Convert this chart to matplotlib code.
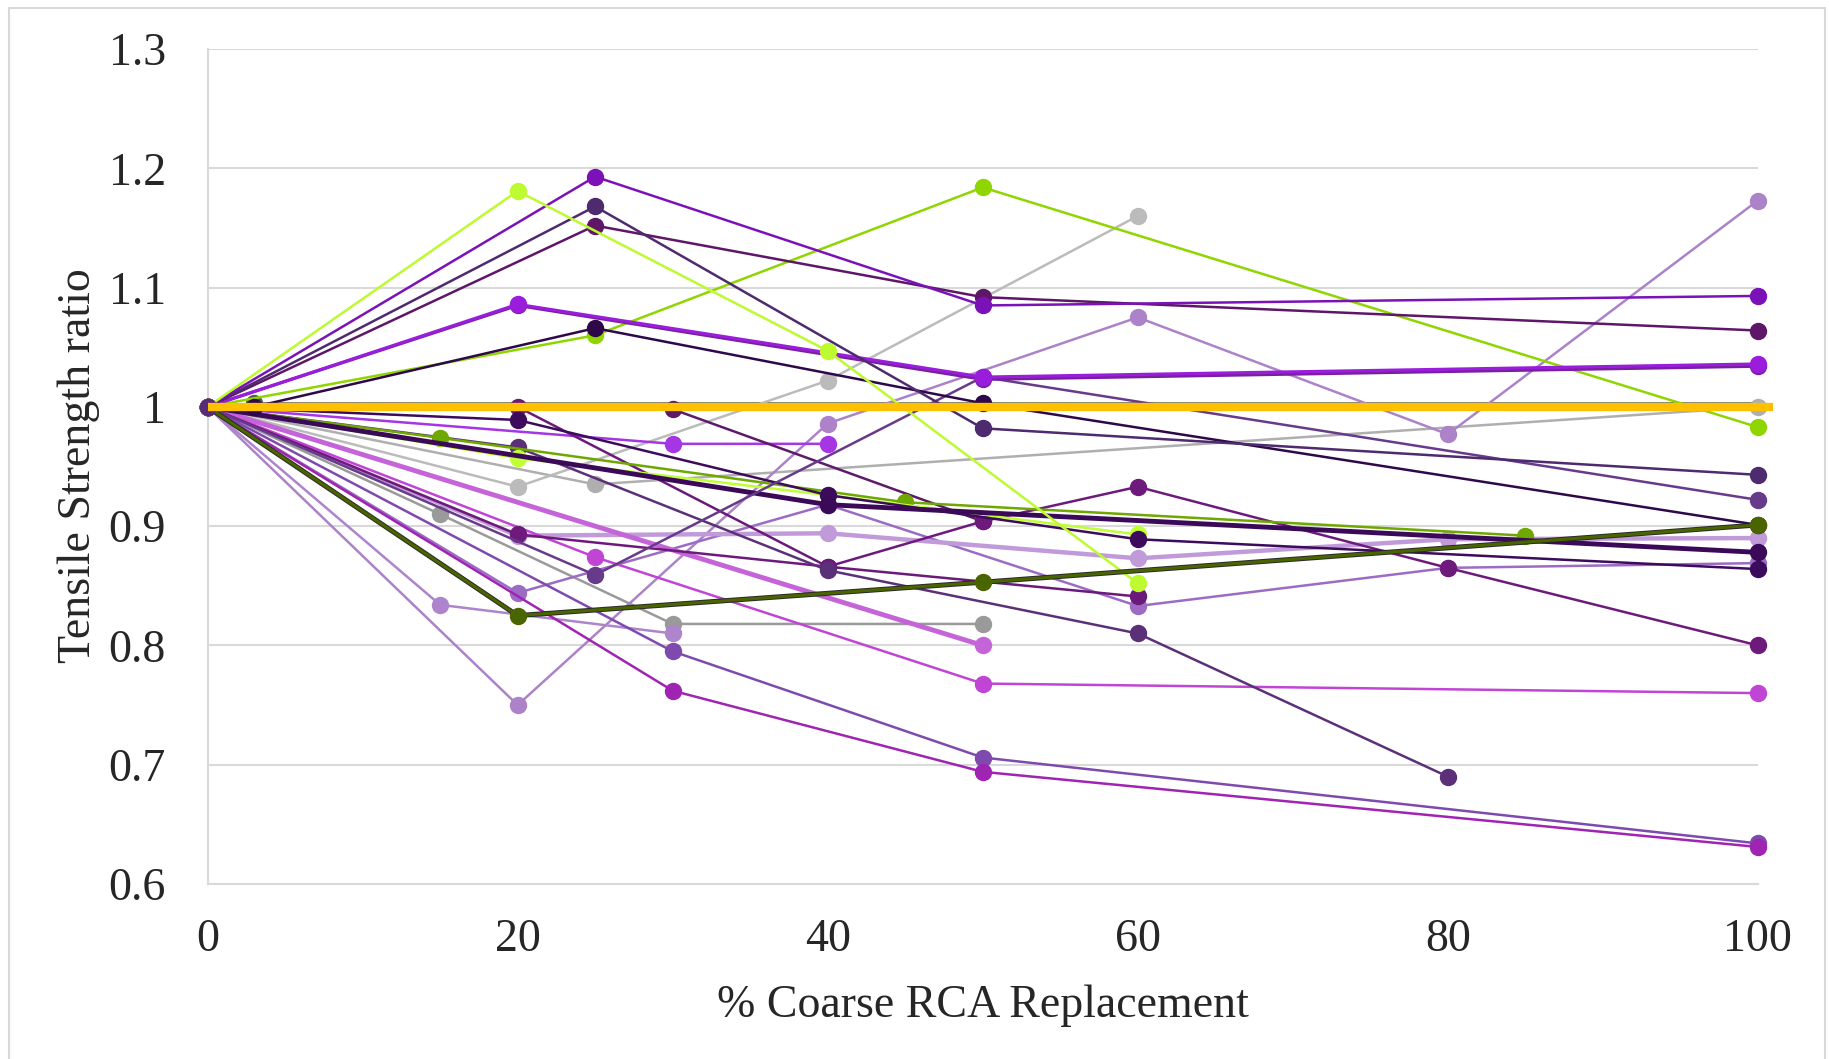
import matplotlib.pyplot as plt
import matplotlib.patheffects as pe
from matplotlib.patches import Rectangle

plt.rcParams['font.family'] = ['Liberation Serif', 'DejaVu Serif']

# % coarse RCA replacement vs tensile strength ratio, one list pair per mix study
lime_a_x = [0, 20, 40, 60]
lime_a_y = [1.0, 1.181, 1.047, 0.852]
lime_b_x = [0, 20, 40, 60]
lime_b_y = [1.0, 0.957, 0.926, 0.893]
green_a_x = [0, 25, 50, 100]
green_a_y = [1.0, 1.060, 1.184, 0.983]
green_b_x = [0, 15, 45, 85]
green_b_y = [1.0, 0.974, 0.920, 0.892]
olive_x = [0, 20, 50, 100]
olive_y = [1.0, 0.825, 0.853, 0.901]

purple_a_x = [0, 25, 50, 100]
purple_a_y = [1.0, 1.193, 1.085, 1.093]
purple_b_x = [0, 25, 50, 100]
purple_b_y = [1.0, 1.168, 0.982, 0.943]
purple_c_x = [0, 25, 50, 100]
purple_c_y = [1.0, 1.152, 1.092, 1.064]
violet_a_x = [0, 20, 50, 100]
violet_a_y = [1.0, 1.086, 1.025, 1.036]
violet_b_x = [0, 20, 50, 100]
violet_b_y = [1.0, 1.085, 1.023, 1.034]
dark_a_x = [3, 25, 50, 100]
dark_a_y = [1.0, 1.066, 1.003, 0.901]
mid_a_x = [0, 25, 50, 100]
mid_a_y = [1.0, 0.859, 1.025, 0.922]
dark_thick_x = [0, 40, 100]
dark_thick_y = [1.0, 0.918, 0.878]
dark_b_x = [0, 20, 40, 60, 100]
dark_b_y = [1.0, 0.989, 0.926, 0.889, 0.864]
plum_a_x = [0, 20, 40, 60, 80]
plum_a_y = [1.0, 0.966, 0.863, 0.810, 0.690]
plum_b_x = [0, 20, 40, 50, 60, 80, 100]
plum_b_y = [1.0, 0.893, 0.866, 0.904, 0.933, 0.865, 0.800]
plum_c_x = [0, 20, 40, 60]
plum_c_y = [1.0, 1.0, 0.866, 0.841]
plum_d_x = [0, 30, 50]
plum_d_y = [1.0, 0.998, 0.904]
bright_x = [0, 30, 40]
bright_y = [1.0, 0.969, 0.969]

lavender_x = [0, 20, 40, 60, 80, 100]
lavender_y = [1.0, 0.892, 0.894, 0.873, 0.889, 0.890]
lilac_a_x = [0, 20, 40, 60, 80, 100]
lilac_a_y = [1.0, 0.844, 0.918, 0.833, 0.865, 0.869]
lilac_b_x = [0, 20, 40, 60, 80, 100]
lilac_b_y = [1.0, 0.750, 0.986, 1.075, 0.977, 1.173]
lilac_c_x = [0, 15, 30]
lilac_c_y = [1.0, 0.834, 0.810]

pink_thick_x = [0, 50]
pink_thick_y = [1.0, 0.800]
pink_x = [0, 25, 50, 100]
pink_y = [1.0, 0.874, 0.768, 0.760]
magenta_x = [0, 30, 50, 100]
magenta_y = [1.0, 0.762, 0.694, 0.631]
indigo_x = [0, 30, 50, 100]
indigo_y = [1.0, 0.795, 0.706, 0.634]

grey_a_x = [0, 20, 40, 60]
grey_a_y = [1.0, 0.933, 1.022, 1.160]
grey_b_x = [0, 25, 100]
grey_b_y = [1.0, 0.935, 1.0]
grey_c_x = [0, 15, 30, 50]
grey_c_y = [1.0, 0.910, 0.818, 0.818]
grey_d_x = [3, 100]
grey_d_y = [1.003, 1.003]

ref_x = [0, 101]
ref_y = [1.0, 1.0]

# (x, y, colour, line width)
series = [
    (grey_d_x, grey_d_y, '#555555', 1.8),
    (grey_b_x, grey_b_y, '#AFAFAF', 1.8),
    (grey_a_x, grey_a_y, '#BBBBBB', 1.8),
    (grey_c_x, grey_c_y, '#9A9A9A', 1.8),
    (lilac_c_x, lilac_c_y, '#AE84CC', 1.8),
    (lilac_b_x, lilac_b_y, '#AC82C8', 1.8),
    (lilac_a_x, lilac_a_y, '#9C6CC4', 1.8),
    (lavender_x, lavender_y, '#C19ADA', 3.2),
    (pink_thick_x, pink_thick_y, '#C564D8', 3.5),
    (pink_x, pink_y, '#C145D4', 1.8),
    (indigo_x, indigo_y, '#7E4AAE', 1.8),
    (magenta_x, magenta_y, '#A024B2', 1.8),
    (bright_x, bright_y, '#A635E4', 1.8),
    (plum_d_x, plum_d_y, '#5E1A6A', 1.8),
    (plum_c_x, plum_c_y, '#6A1A7A', 1.8),
    (plum_b_x, plum_b_y, '#6E1A7C', 1.8),
    (plum_a_x, plum_a_y, '#5B3079', 1.8),
    (green_b_x, green_b_y, '#6EA800', 1.8),
    (lime_b_x, lime_b_y, '#BFFF33', 1.8),
    (dark_b_x, dark_b_y, '#3C0B5C', 1.8),
    (dark_thick_x, dark_thick_y, '#3A0A58', 3.5),
    (mid_a_x, mid_a_y, '#673A8A', 1.8),
    (green_a_x, green_a_y, '#8FD600', 1.8),
    (dark_a_x, dark_a_y, '#2E0849', 1.8),
    (violet_b_x, violet_b_y, '#7B1FA2', 2.2),
    (violet_a_x, violet_a_y, '#9A1DDC', 2.2),
    (purple_c_x, purple_c_y, '#5E1768', 1.8),
    (purple_b_x, purple_b_y, '#4E2A6E', 1.8),
    (purple_a_x, purple_a_y, '#7A12B8', 1.8),
    (lime_a_x, lime_a_y, '#BDFA2F', 1.8),
]

fig = plt.figure(figsize=(18.29, 10.59), dpi=100)
ax = fig.add_axes([0.1135, 0.1653, 0.8476, 0.7884])

for x, y, c, lw in series:
    mev = [0] if c == '#555555' else None
    ax.plot(x, y, color=c, lw=lw, marker='o', ms=11.5, mec=c, mfc=c,
            markevery=mev, clip_on=False, zorder=3)

# olive mix: outlined line, plain markers
ax.plot(olive_x, olive_y, color='#4A6500', lw=2.2, clip_on=False, zorder=3,
        path_effects=[pe.Stroke(linewidth=3.6, foreground='#2A2A2A'), pe.Normal()])
ax.plot(olive_x, olive_y, ls='none', marker='o', ms=11.5, color='#4A6500',
        clip_on=False, zorder=3)

# start point shared by all mixes
ax.plot([0], [1.0], marker='o', ms=11.5, color='#5A2A7A', clip_on=False, zorder=4)

# reference ratio of 1.0
ax.plot(ref_x, ref_y, color='#FFC000', lw=6, solid_capstyle='butt',
        clip_on=False, zorder=5)

ax.set_xlim(0, 100)
ax.set_ylim(0.6, 1.3)
ax.set_xticks([0, 20, 40, 60, 80, 100])
ax.set_yticks([0.6, 0.7, 0.8, 0.9, 1.0, 1.1, 1.2, 1.3])
ax.set_yticklabels(['0.6', '0.7', '0.8', '0.9', '1', '1.1', '1.2', '1.3'])
ax.tick_params(axis='both', length=0, labelsize=33, colors='#262626')
ax.tick_params(axis='y', pad=30)
ax.tick_params(axis='x', pad=25)
ax.grid(axis='y', color='#D9D9D9', lw=1.5, zorder=0)
ax.set_axisbelow(True)
for side in ['top', 'right']:
    ax.spines[side].set_visible(False)
for side in ['left', 'bottom']:
    ax.spines[side].set_color('#D9D9D9')
    ax.spines[side].set_linewidth(1.5)

fig.text(0.0428, 0.56, 'Tensile Strength ratio', rotation=90, ha='center',
         va='center', fontsize=33, color='#262626')
fig.text(0.5375, 0.050, '% Coarse RCA Replacement', ha='center', va='center',
         fontsize=33, color='#262626')

# outer chart frame
fig.patches.append(Rectangle((9 / 1829, -0.05), (1825 - 9) / 1829, 1.05 - 8 / 1059,
                             transform=fig.transFigure, fill=False,
                             edgecolor='#D9D9D9', lw=1.5))

plt.savefig('out.png', dpi=100)
